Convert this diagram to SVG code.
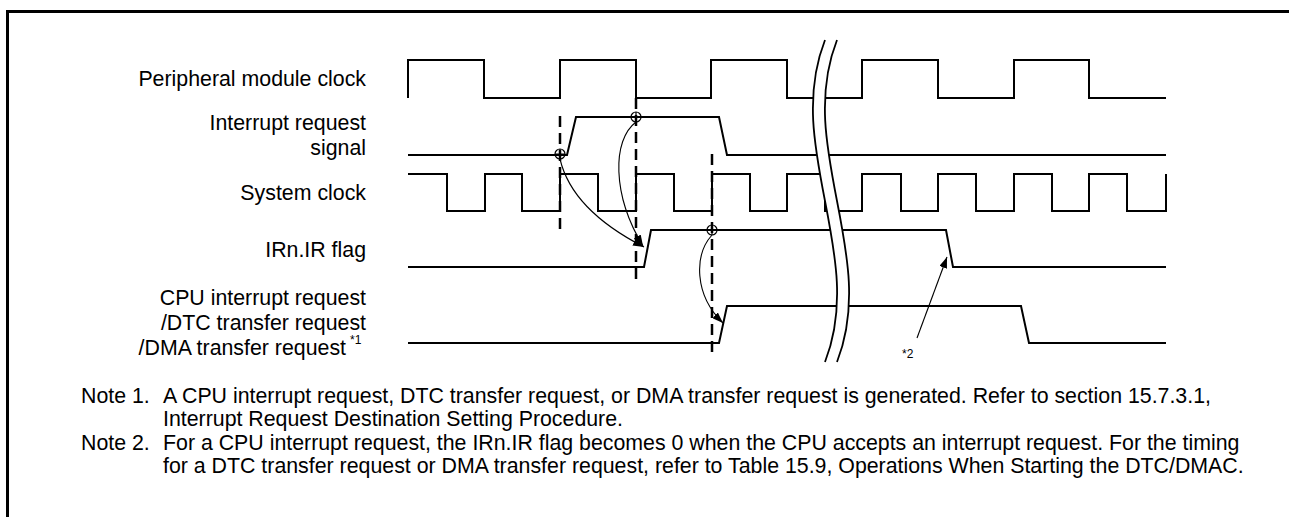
<svg xmlns="http://www.w3.org/2000/svg" width="1289" height="517" viewBox="0 0 1289 517">
<defs>
<style>
.lbl{font-family:"Liberation Sans",Arial,sans-serif;font-size:21.33px;fill:#000;text-anchor:end}
.note{font-family:"Liberation Sans",Arial,sans-serif;font-size:21.33px;fill:#000}
.sup{font-family:"Liberation Sans",Arial,sans-serif;font-size:12px;fill:#000}
.wave{fill:none;stroke:#000;stroke-width:2;stroke-linejoin:miter}
.dash{fill:none;stroke:#000;stroke-width:2.5;stroke-dasharray:11 6}
.conn{fill:none;stroke:#000;stroke-width:1.1}
.mark{fill:none;stroke:#000;stroke-width:1.2}
.brk{fill:none;stroke:#000;stroke-width:1.8}
</style>
<marker id="arr" markerUnits="userSpaceOnUse" markerWidth="12" markerHeight="8" refX="11" refY="4" orient="auto">
<path d="M0,0 L11,4 L0,8 z" fill="#000"/>
</marker>
</defs>
<rect width="1289" height="517" fill="#fff"/>
<path d="M7.5,517 V11.5 H1289" fill="none" stroke="#000" stroke-width="3"/>

<g id="pclk">
<text class="lbl" x="366" y="86">Peripheral module clock</text>
<path class="wave" d="M408,98 V60 H484 V98 H560 V60 H636 V98 H711 V60 H787 V98 H862 V60 H938 V98 H1014 V60 H1089 V98 H1166"/>
</g>

<g id="irq">
<text class="lbl" x="366" y="130">Interrupt request</text>
<text class="lbl" x="366" y="155">signal</text>
<path class="wave" d="M408,155 H567 L576,117 H719 L727,155 H1166"/>
</g>

<g id="sclk">
<text class="lbl" x="366" y="200">System clock</text>
<path class="wave" d="M408,174 H447 V211 H485 V174 H522 V211 H560 V174 H598 V211 H636 V174 H674 V211 H712 V174 H750 V211 H787 V174 H825 V211 H862 V174 H901 V211 H938 V174 H976 V211 H1014 V174 H1052 V211 H1089 V174 H1127 V211 H1166 V174"/>
</g>

<g id="irflag">
<text class="lbl" x="366" y="257">IRn.IR flag</text>
<path class="wave" d="M408,267 H644 L651,230 H946 L953,267 H1166"/>
</g>

<g id="cpureq">
<text class="lbl" x="366" y="305">CPU interrupt request</text>
<text class="lbl" x="366" y="330">/DTC transfer request</text>
<text class="lbl" x="346" y="355">/DMA transfer request</text>
<text class="sup" x="350" y="344">*1</text>
<path class="wave" d="M408,343 H719 L727,306 H1021 L1029,343 H1166"/>
</g>

<g id="break">
<path d="M825,40 C783,147 867,255 825,362 L837,362 C879,255 795,147 837,40 Z" fill="#fff" stroke="none"/>
<path class="brk" d="M825,40 C783,147 867,255 825,362"/>
<path class="brk" d="M837,40 C795,147 879,255 837,362"/>
</g>

<g id="connectors">
<path class="dash" d="M560,116 V232"/>
<path class="dash" d="M636,98 V283"/>
<path class="dash" d="M712,154 V355"/>
<g id="m1"><circle class="mark" cx="560" cy="154" r="5"/><path class="mark" d="M555,154 H565 M560,149 V159"/></g>
<g id="m2"><circle class="mark" cx="636" cy="117" r="5"/><path class="mark" d="M631,117 H641 M636,112 V122"/></g>
<g id="m3"><circle class="mark" cx="712" cy="230" r="5"/><path class="mark" d="M707,230 H717 M712,225 V235"/></g>
<path class="conn" d="M560,159 Q572,210 644,247" marker-end="url(#arr)"/>
<path class="conn" d="M636,122 C612,140 612,195 643,246" marker-end="url(#arr)"/>
<path class="conn" d="M712,235 C694,255 694,295 723,323" marker-end="url(#arr)"/>
<path class="conn" d="M917,338 L947,257" marker-end="url(#arr)"/>
<text class="sup" x="902" y="358">*2</text>
</g>

<g id="notes">
<text class="note" x="81" y="403">Note 1.</text>
<text class="note" x="163" y="403">A CPU interrupt request, DTC transfer request, or DMA transfer request is generated. Refer to section 15.7.3.1,</text>
<text class="note" x="163" y="426">Interrupt Request Destination Setting Procedure.</text>
<text class="note" x="81" y="450">Note 2.</text>
<text class="note" x="163" y="450">For a CPU interrupt request, the IRn.IR flag becomes 0 when the CPU accepts an interrupt request. For the timing</text>
<text class="note" x="163" y="473">for a DTC transfer request or DMA transfer request, refer to Table 15.9, Operations When Starting the DTC/DMAC.</text>
</g>
</svg>
